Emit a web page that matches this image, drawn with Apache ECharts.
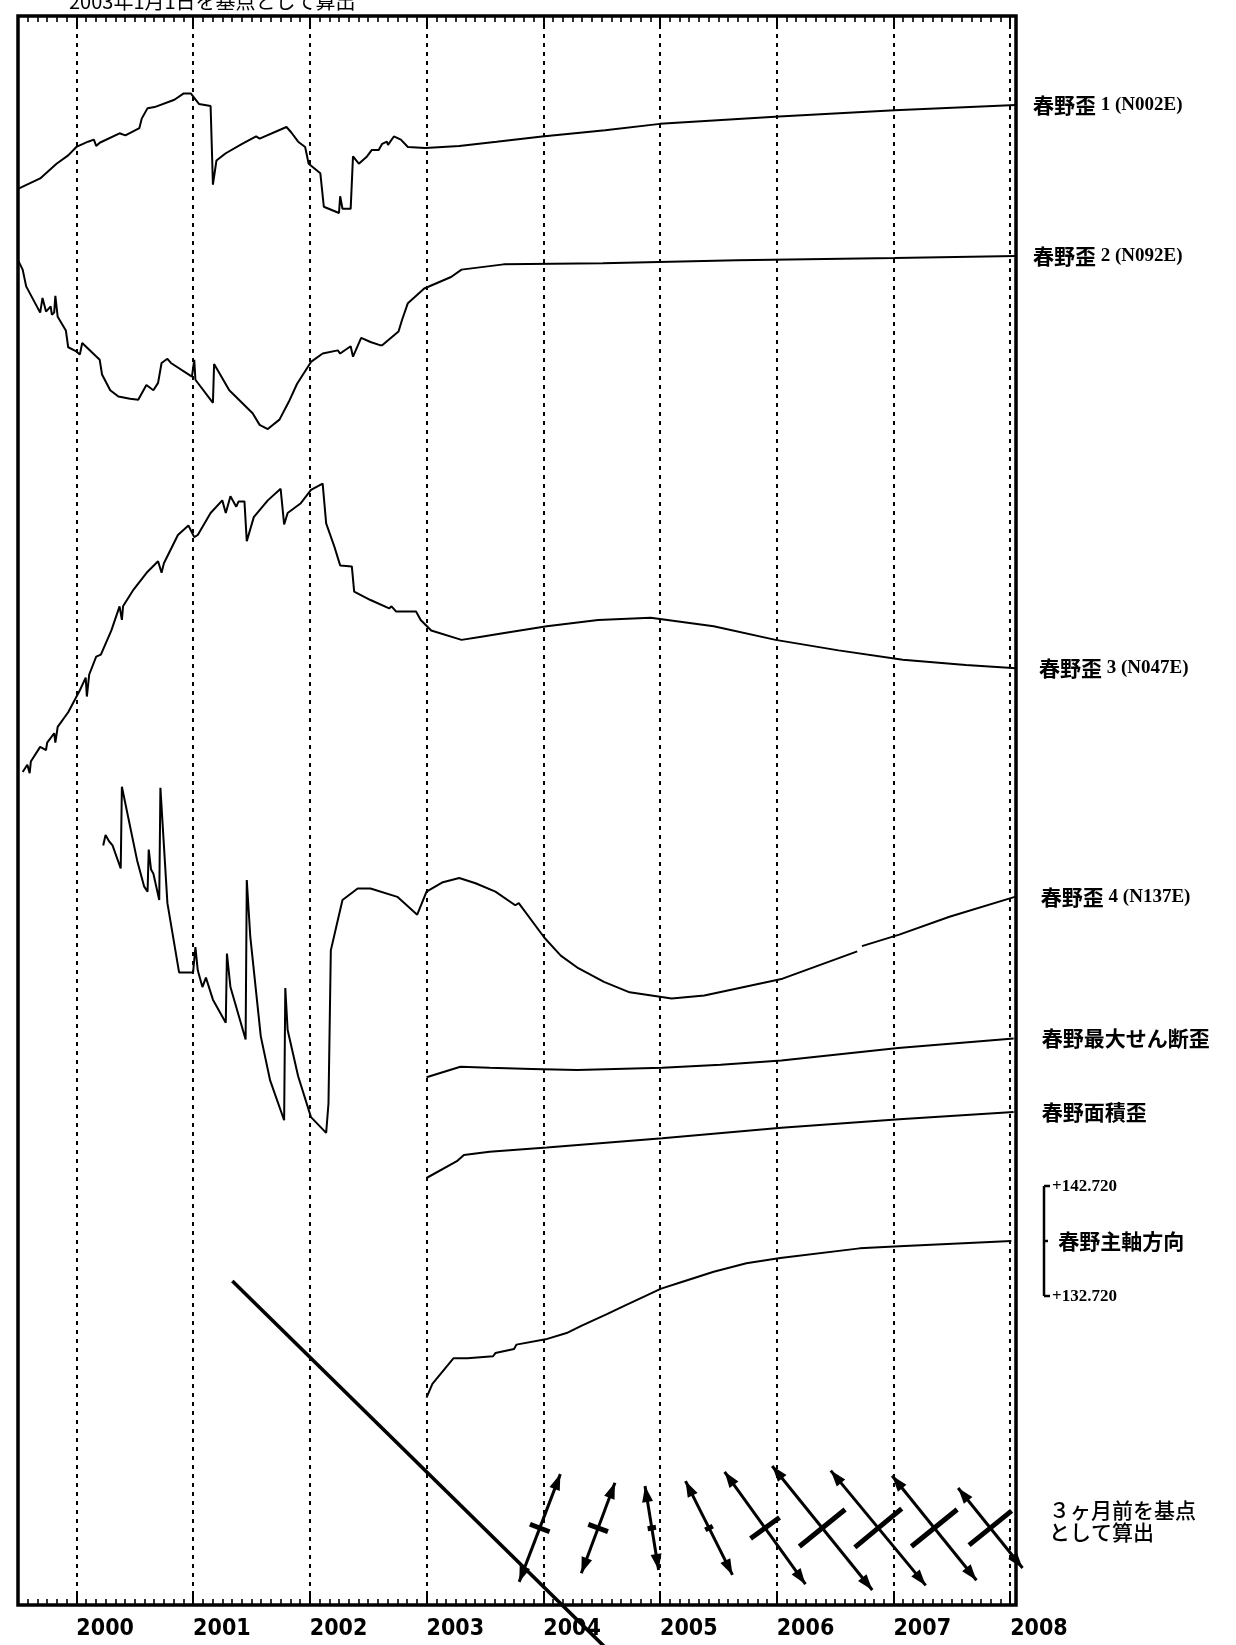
<!DOCTYPE html>
<html><head><meta charset="utf-8">
<script src="https://cdn.jsdelivr.net/npm/echarts@6/dist/echarts.min.js"></script>
<style>html,body{margin:0;padding:0;background:#fff}#c{width:1236px;height:1645px}</style>
</head><body><div id="c"></div>
<script>
// ---------------- DATA ----------------
const yearTicks = [2000, 2001, 2002, 2003, 2004, 2005, 2006, 2007, 2008];
const xRange = [1999.5, 2008.05];
const titleText = '2003年1月1日を基点として算出';
const glyphCaption = '３ヶ月前を基点\nとして算出';
const seriesNames = ['春野歪 1 (N002E)', '春野歪 2 (N092E)', '春野歪 3 (N047E)', '春野歪 4 (N137E)', '春野最大せん断歪', '春野面積歪', '春野主軸方向'];

// relative strain (arbitrary units, base 2003-01-01), [year, value]
const s1 = [[1999.50,-39],[1999.69,-29],[1999.83,-15],[1999.93,-7],[2000.00,1],[2000.10,6],[2000.15,8],[2000.17,2],[2000.20,5],[2000.37,14],[2000.42,12],[2000.54,19],[2000.56,28],[2000.61,38],[2000.67,39],[2000.84,46],[2000.92,52],[2000.98,52],[2001.05,42],[2001.15,40],[2001.17,-35],[2001.20,-12],[2001.28,-5],[2001.42,4],[2001.54,11],[2001.57,9],[2001.80,20],[2001.84,15],[2001.90,6],[2001.96,1],[2001.99,-15],[2002.09,-24],[2002.12,-56],[2002.25,-62],[2002.26,-46],[2002.28,-58],[2002.35,-58],[2002.37,-8],[2002.42,-15],[2002.49,-8],[2002.53,-2],[2002.59,-2],[2002.62,4],[2002.66,6],[2002.67,3],[2002.72,11],[2002.78,8],[2002.84,1],[2002.99,0],[2003.28,2],[2003.60,6],[2003.99,11],[2004.53,17],[2005.00,23],[2006.02,30],[2007.01,36],[2008.05,41]];
const s2 = [[1999.50,27],[1999.54,18],[1999.57,2],[1999.69,-23],[1999.71,-9],[1999.74,-22],[1999.78,-17],[1999.79,-25],[1999.81,-23],[1999.82,-7],[1999.84,-27],[1999.91,-40],[1999.93,-56],[2000.00,-60],[2000.03,-63],[2000.05,-52],[2000.20,-68],[2000.22,-82],[2000.29,-97],[2000.36,-103],[2000.46,-105],[2000.53,-106],[2000.60,-92],[2000.66,-97],[2000.70,-90],[2000.73,-71],[2000.78,-67],[2000.81,-71],[2000.99,-84],[2001.01,-68],[2001.02,-87],[2001.17,-109],[2001.18,-72],[2001.31,-97],[2001.51,-119],[2001.57,-130],[2001.64,-134],[2001.74,-125],[2001.82,-108],[2001.89,-91],[2002.01,-70],[2002.11,-62],[2002.24,-59],[2002.26,-62],[2002.35,-55],[2002.37,-65],[2002.44,-47],[2002.52,-51],[2002.60,-54],[2002.62,-54],[2002.76,-41],[2002.79,-30],[2002.84,-14],[2002.98,0],[2003.21,11],[2003.30,18],[2003.66,23],[2004.51,24],[2005.66,27],[2007.01,29],[2008.05,31]];
const s3 = [[1999.54,-140],[1999.58,-133],[1999.60,-141],[1999.61,-130],[1999.69,-116],[1999.74,-119],[1999.75,-112],[1999.81,-103],[1999.82,-112],[1999.84,-97],[1999.93,-83],[2000.03,-62],[2000.08,-50],[2000.09,-68],[2000.11,-47],[2000.17,-30],[2000.21,-28],[2000.30,-5],[2000.37,18],[2000.39,5],[2000.40,18],[2000.49,34],[2000.61,51],[2000.70,61],[2000.73,50],[2000.75,59],[2000.87,86],[2000.96,95],[2001.01,84],[2001.04,86],[2001.15,107],[2001.25,119],[2001.28,107],[2001.32,123],[2001.37,113],[2001.39,118],[2001.44,118],[2001.46,80],[2001.52,103],[2001.64,119],[2001.75,130],[2001.78,96],[2001.81,107],[2001.92,116],[2002.01,129],[2002.11,135],[2002.14,97],[2002.21,75],[2002.26,57],[2002.36,56],[2002.38,32],[2002.52,24],[2002.68,16],[2002.70,18],[2002.74,13],[2002.91,13],[2002.95,5],[2003.04,-5],[2003.30,-14],[2003.47,-11],[2003.64,-8],[2004.03,-1],[2004.47,5],[2004.92,7],[2005.46,-1],[2005.99,-14],[2006.53,-24],[2007.08,-33],[2007.62,-38],[2008.05,-41]];
const s4 = [[2000.23,54],[2000.25,64],[2000.28,58],[2000.31,54],[2000.38,32],[2000.39,110],[2000.52,40],[2000.58,15],[2000.61,10],[2000.62,50],[2000.64,31],[2000.66,27],[2000.71,2],[2000.72,109],[2000.78,-1],[2000.88,-67],[2001.00,-67],[2001.02,-43],[2001.04,-65],[2001.08,-81],[2001.11,-72],[2001.17,-93],[2001.28,-115],[2001.29,-49],[2001.32,-81],[2001.45,-131],[2001.46,21],[2001.49,-33],[2001.58,-128],[2001.66,-170],[2001.78,-208],[2001.79,-82],[2001.81,-122],[2001.90,-166],[2002.01,-205],[2002.14,-220],[2002.16,-192],[2002.18,-46],[2002.24,-17],[2002.28,2],[2002.41,13],[2002.52,13],[2002.75,5],[2002.92,-12],[2003.00,10],[2003.14,19],[2003.28,23],[2003.42,18],[2003.59,10],[2003.76,-3],[2003.79,-1],[2004.01,-34],[2004.15,-51],[2004.30,-63],[2004.52,-76],[2004.74,-86],[2005.10,-92],[2005.38,-89],[2006.05,-73],[2006.69,-47],[2006.71,null],[2006.73,-42],[2007.05,-31],[2007.48,-14],[2008.04,5]];
const s5 = [[2003.00,0],[2003.29,10],[2003.54,9],[2003.90,8],[2004.29,7],[2005.02,9],[2005.52,12],[2006.04,16],[2007.04,28],[2008.03,37]];
const s6 = [[2003.00,0],[2003.26,16],[2003.32,22],[2003.54,25],[2004.03,29],[2005.02,38],[2006.04,48],[2007.05,56],[2008.03,63]];
// principal axis direction (degrees)
const s7 = [[2003.00,123.49],[2003.05,124.74],[2003.23,127.05],[2003.35,127.05],[2003.57,127.24],[2003.59,127.53],[2003.75,127.91],[2003.77,128.30],[2004.02,128.78],[2004.20,129.35],[2004.33,130.03],[2004.55,131.09],[2004.68,131.76],[2005.01,133.39],[2005.18,133.97],[2005.46,134.93],[2005.74,135.70],[2006.03,136.18],[2006.71,137.05],[2007.05,137.24],[2008.01,137.72]];
const bracketRange = [132.72, 142.72];

// principal strain glyphs (3-month base)
const glyphTimes   = [2003.49, 2003.97, 2004.47, 2004.93, 2005.42, 2005.90, 2006.39, 2006.87, 2007.35, 2007.83];
const glyphAzimuth = [134.5, 20.9, 20.4, 170.8, 153.4, 144.3, 141.1, 140.4, 141.1, 141.2];
const glyphMajor   = [336, 55, 46, 40.5, 50, 66, 76, 71, 64, 49];
const glyphMinor   = [0, 10, 10, 4, 4, 17, 28, 29, 28, 26];

// ---------------- LAYOUT ----------------
const G = {left: 18, top: 16, width: 998, height: 1589};
const bracketPx = 110;
const bands = [
  {ref: 0, refY: 148, unitPx: 1.049, dist: 17},
  {ref: 0, refY: 288.5, unitPx: 1.049, dist: 17},
  {ref: 0, refY: 625.2, unitPx: 1.049, dist: 23},
  {ref: 0, refY: 902.1, unitPx: 1.049, dist: 26},
  {ref: 0, refY: 1077.3, unitPx: 1.049, dist: 28},
  {ref: 0, refY: 1178, unitPx: 1.049, dist: 28},
  {ref: (bracketRange[0] + bracketRange[1]) / 2, refY: 1241, unitPx: bracketPx / (bracketRange[1] - bracketRange[0]), dist: 47}
];
const glyphBand = {ref: 0, refY: 1528, unitPx: 1};
const glyphUnitPx = 1.049;
const headMaxLen = 200;   // glyphs longer than this run off the frame; no heads drawn
const allData = [s1, s2, s3, s4, s5, s6, s7];

function axisFor(b) {
  return {type: 'value', gridIndex: 0, show: false,
    min: b.ref - (G.top + G.height - b.refY) / b.unitPx,
    max: b.ref + (b.refY - G.top) / b.unitPx};
}
const cjkFont = '"Noto Sans CJK JP", sans-serif';
function toRich(s) { return s.replace(/([\u3000-\u9fff\uff00-\uffef]+)/g, '{c|$1}'); }

const tickColor = '#000';
const xBase = {type: 'value', gridIndex: 0, min: xRange[0], max: xRange[1]};
const noLine = {show: false, onZero: false};
const xAxes = [
  Object.assign({}, xBase, {position: 'bottom', splitNumber: 9,
    axisLine: noLine,
    axisTick: {show: true, inside: true, length: 11, lineStyle: {color: tickColor, width: 2}},
    axisLabel: {show: true, showMinLabel: true, showMaxLabel: true, align: 'left', margin: 13,
      formatter: v => { const r = Math.round(v); return (Math.abs(v - r) < 1e-6 && yearTicks.indexOf(r) >= 0) ? String(r) : ''; },
      color: '#000', fontSize: 23, fontWeight: 'bold', fontFamily: '"DejaVu Sans Condensed", "Liberation Sans Narrow", sans-serif'},
    splitLine: {show: true, lineStyle: {type: [4, 5], color: '#000', width: 2}}}),
  Object.assign({}, xBase, {position: 'bottom', interval: 1 / 12,
    axisLine: noLine, axisLabel: {show: false}, splitLine: {show: false},
    axisTick: {show: true, inside: true, length: 6, lineStyle: {color: tickColor, width: 1.6}}}),
  Object.assign({}, xBase, {position: 'top', interval: 1 / 12,
    axisLine: noLine, axisLabel: {show: false}, splitLine: {show: false},
    axisTick: {show: true, inside: true, length: 6, lineStyle: {color: tickColor, width: 1.6}}}),
  Object.assign({}, xBase, {position: 'top', splitNumber: 9,
    axisLine: noLine, axisLabel: {show: false}, splitLine: {show: false},
    axisTick: {show: true, inside: true, length: 11, lineStyle: {color: tickColor, width: 2}}})
];

const yAxes = bands.map(axisFor).concat([axisFor(glyphBand)]);

const lineSeries = allData.map((d, i) => ({
  type: 'line', name: seriesNames[i], data: d, xAxisIndex: 0, yAxisIndex: i,
  showSymbol: false, symbol: 'none', connectNulls: false, animation: false,
  lineStyle: {color: '#000', width: 2},
  endLabel: {show: true, distance: bands[i].dist, formatter: p => toRich(p.seriesName),
    color: '#000', fontSize: 19, fontWeight: 'bold', fontFamily: '"Liberation Serif", serif',
    rich: {c: {fontFamily: cjkFont, fontSize: 21, fontWeight: 'bold', color: '#000'}}}
}));

function renderGlyph(params, api) {
  const c = api.coord([api.value(0), api.value(1)]);
  const az = api.value(2) * Math.PI / 180;
  const L = api.value(3) * glyphUnitPx, m = api.value(4) * glyphUnitPx;
  const ux = Math.sin(az), uy = -Math.cos(az);
  const vx = -uy, vy = ux;
  const a = [c[0] + ux * L, c[1] + uy * L], b = [c[0] - ux * L, c[1] - uy * L];
  const hl = 16, hw = 5.5;
  const head = (tip, dx, dy) => ({type: 'polygon', shape: {points: [
      [tip[0], tip[1]],
      [tip[0] - dx * hl - dy * hw, tip[1] - dy * hl + dx * hw],
      [tip[0] - dx * hl + dy * hw, tip[1] - dy * hl - dx * hw]]},
    style: {fill: '#000'}});
  const children = [
    {type: 'line', shape: {x1: a[0], y1: a[1], x2: b[0], y2: b[1]}, style: {stroke: '#000', lineWidth: L > headMaxLen ? 3.6 : 3}}
  ];
  if (L <= headMaxLen) children.push(head(a, ux, uy), head(b, -ux, -uy));
  if (m > 0) children.push({type: 'line', shape: {x1: c[0] - vx * m, y1: c[1] - vy * m, x2: c[0] + vx * m, y2: c[1] + vy * m},
    style: {stroke: '#000', lineWidth: 5}});
  return {type: 'group', children};
}

function renderBracket(params, api) {
  const lo = api.coord([api.value(0), api.value(1)]);
  const hi = api.coord([api.value(0), api.value(2)]);
  const x = lo[0] + 28;
  const mid = (lo[1] + hi[1]) / 2;
  const st = {stroke: '#000', lineWidth: 2.5};
  const tf = {fill: '#000', fontSize: 17, fontWeight: 'bold', fontFamily: '"Liberation Serif", serif', verticalAlign: 'middle', align: 'left'};
  return {type: 'group', children: [
    {type: 'line', shape: {x1: x, y1: hi[1], x2: x, y2: lo[1]}, style: st},
    {type: 'line', shape: {x1: x, y1: hi[1], x2: x + 6, y2: hi[1]}, style: st},
    {type: 'line', shape: {x1: x, y1: lo[1], x2: x + 6, y2: lo[1]}, style: st},
    {type: 'line', shape: {x1: x, y1: mid, x2: x + 4, y2: mid}, style: st},
    {type: 'text', style: Object.assign({x: x + 8, y: hi[1] + 1, text: '+' + api.value(2).toFixed(3)}, tf)},
    {type: 'text', style: Object.assign({x: x + 8, y: lo[1] + 1, text: '+' + api.value(1).toFixed(3)}, tf)}
  ]};
}

const chart = echarts.init(document.getElementById('c'), null, {renderer: 'canvas'});
chart.setOption({
  animation: false,
  backgroundColor: '#fff',
  grid: [{left: G.left, top: G.top, width: G.width, height: G.height, show: true, borderColor: '#000', borderWidth: 3.5, backgroundColor: 'transparent'}],
  xAxis: xAxes,
  yAxis: yAxes,
  series: lineSeries.concat([
    {type: 'custom', xAxisIndex: 0, yAxisIndex: 6, clip: false, silent: true,
      data: [[xRange[1], bracketRange[0], bracketRange[1]]], renderItem: renderBracket},
    {type: 'custom', xAxisIndex: 0, yAxisIndex: 7, clip: false, silent: true,
      data: glyphTimes.map((t, i) => [t, 0, glyphAzimuth[i], glyphMajor[i], glyphMinor[i]]), renderItem: renderGlyph}
  ]),
  graphic: [
    {type: 'text', left: 69, top: -9, style: {text: titleText, fill: '#000', fontSize: 20, fontFamily: cjkFont}},
    {type: 'text', left: 1049, top: 1499, style: {text: glyphCaption, fill: '#000', fontSize: 21, lineHeight: 22, fontFamily: cjkFont, fontWeight: 500}}
  ]
});
</script>
</body></html>
